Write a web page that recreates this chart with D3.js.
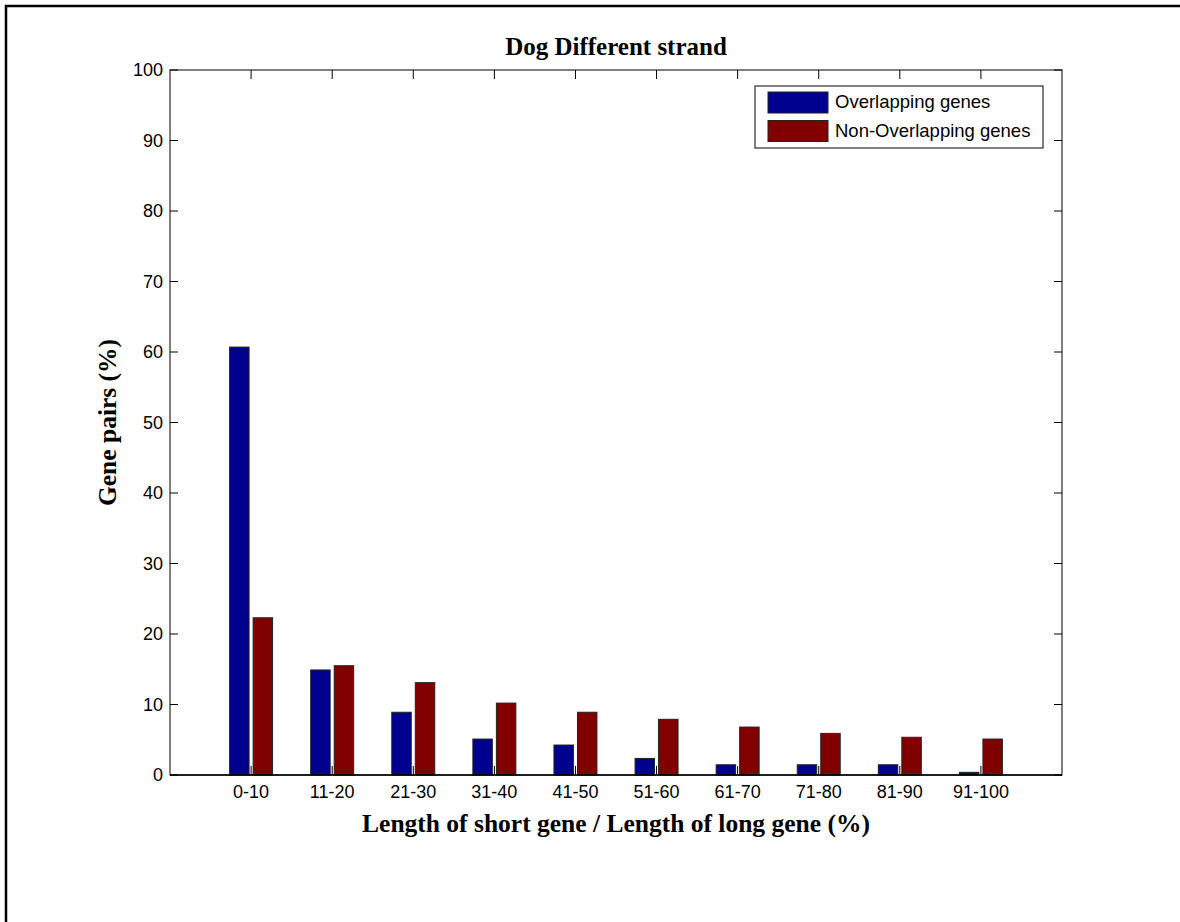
<!DOCTYPE html>
<html>
<head>
<meta charset="utf-8">
<script src="https://cdn.jsdelivr.net/npm/d3@7"></script>
<style>
  body { margin: 0; background: #fff; }
  text { fill: #000; }
</style>
</head>
<body>
<div id="chart"></div>
<script>
// data
const categories = ["0-10", "11-20", "21-30", "31-40", "41-50", "51-60", "61-70", "71-80", "81-90", "91-100"]
const overlapping = [60.7, 14.9, 8.9, 5.1, 4.25, 2.35, 1.45, 1.45, 1.45, 0.38]
const nonOverlapping = [22.3, 15.5, 13.1, 10.2, 8.9, 7.9, 6.8, 5.9, 5.35, 5.1]
const seriesNames = ["Overlapping genes", "Non-Overlapping genes"]
const seriesColors = ["#00008f", "#800000"]
const yTicks = [0, 10, 20, 30, 40, 50, 60, 70, 80, 90, 100]

const width = 1180
const height = 922
const margin = { top: 70, right: 118, bottom: 147, left: 170 }

const svg = d3.select("#chart")
  .append("svg")
  .attr("width", width)
  .attr("height", height)

// figure border (runs off the right and bottom edges)
svg.append("rect")
  .attr("x", 6).attr("y", 6)
  .attr("width", width + 20).attr("height", height + 20)
  .attr("fill", "none")
  .attr("stroke", "#000")
  .attr("stroke-width", 2.5)

// matlab style x: positions 1..10, limits 0..11
const x = d3.scaleLinear()
  .domain([0, categories.length + 1])
  .range([margin.left, width - margin.right])

const y = d3.scaleLinear()
  .domain([0, 100])
  .range([height - margin.bottom, margin.top])

const barW = 0.24
const offset = 0.145
const series = [overlapping, nonOverlapping]

const bars = svg.append("g")
series.forEach((vals, si) => {
  bars.selectAll(null)
    .data(vals)
    .join("rect")
      .attr("x", (d, i) => x(i + 1 + (si === 0 ? -offset : offset) - barW / 2))
      .attr("y", d => y(d))
      .attr("width", x(barW) - x(0))
      .attr("height", d => y(0) - y(d))
      .attr("fill", seriesColors[si])
      .attr("stroke", "#222")
      .attr("stroke-width", 1)
})

// axes box with inward ticks
const x0 = margin.left, x1 = width - margin.right
const y0 = height - margin.bottom, y1 = margin.top
const axes = svg.append("g").attr("stroke", "#000").attr("stroke-width", 1)

axes.append("rect")
  .attr("x", x0).attr("y", y1)
  .attr("width", x1 - x0).attr("height", y0 - y1)
  .attr("fill", "none")

const tickPos = categories.map((c, i) => i + 1)
axes.selectAll(".xt-b")
  .data(tickPos)
  .join("line")
    .attr("x1", d => x(d)).attr("x2", d => x(d))
    .attr("y1", y0).attr("y2", y0 - 9)
axes.selectAll(".xt-t")
  .data(tickPos)
  .join("line")
    .attr("x1", d => x(d)).attr("x2", d => x(d))
    .attr("y1", y1).attr("y2", y1 + 9)
axes.selectAll(".yt-l")
  .data(yTicks)
  .join("line")
    .attr("x1", x0).attr("x2", x0 + 8)
    .attr("y1", d => y(d)).attr("y2", d => y(d))
axes.selectAll(".yt-r")
  .data(yTicks)
  .join("line")
    .attr("x1", x1).attr("x2", x1 - 8)
    .attr("y1", d => y(d)).attr("y2", d => y(d))

// redraw the bottom axis line over the bars
axes.append("line")
  .attr("x1", x0).attr("x2", x1)
  .attr("y1", y0).attr("y2", y0)
  .attr("stroke-width", 1.5)

// tick labels
const sans = "'Liberation Sans', Arial, Helvetica, sans-serif"
svg.append("g")
  .selectAll("text")
  .data(yTicks)
  .join("text")
    .attr("x", x0 - 7)
    .attr("y", d => y(d))
    .attr("dy", "0.36em")
    .attr("text-anchor", "end")
    .attr("font-family", sans)
    .attr("font-size", 18)
    .text(d => d)

svg.append("g")
  .selectAll("text")
  .data(categories)
  .join("text")
    .attr("x", (d, i) => x(i + 1))
    .attr("y", y0 + 23)
    .attr("text-anchor", "middle")
    .attr("font-family", sans)
    .attr("font-size", 18)
    .text(d => d)

// titles
const serif = "'Liberation Serif', 'Times New Roman', serif"
svg.append("text")
  .attr("x", (x0 + x1) / 2)
  .attr("y", 55)
  .attr("text-anchor", "middle")
  .attr("font-family", serif)
  .attr("font-weight", "bold")
  .attr("font-size", 25)
  .text("Dog Different strand")

svg.append("text")
  .attr("x", (x0 + x1) / 2)
  .attr("y", 832)
  .attr("text-anchor", "middle")
  .attr("font-family", serif)
  .attr("font-weight", "bold")
  .attr("font-size", 25.5)
  .text("Length of short gene / Length of long gene (%)")

svg.append("text")
  .attr("transform", `translate(116,${(y0 + y1) / 2}) rotate(-90)`)
  .attr("text-anchor", "middle")
  .attr("font-family", serif)
  .attr("font-weight", "bold")
  .attr("font-size", 25.5)
  .text("Gene pairs (%)")

// legend
const legend = svg.append("g").attr("transform", "translate(755,86)")
legend.append("rect")
  .attr("width", 288).attr("height", 62)
  .attr("fill", "#fff")
  .attr("stroke", "#000")
  .attr("stroke-width", 1)

const items = legend.selectAll("g")
  .data(seriesNames)
  .join("g")
    .attr("transform", (d, i) => `translate(13,${6 + i * 28.5})`)
items.append("rect")
  .attr("width", 60).attr("height", 21)
  .attr("fill", (d, i) => seriesColors[i])
  .attr("stroke", "#222")
items.append("text")
  .attr("x", 67)
  .attr("y", 16)
  .attr("font-family", sans)
  .attr("font-size", 18.5)
  .text(d => d)
</script>
</body>
</html>
